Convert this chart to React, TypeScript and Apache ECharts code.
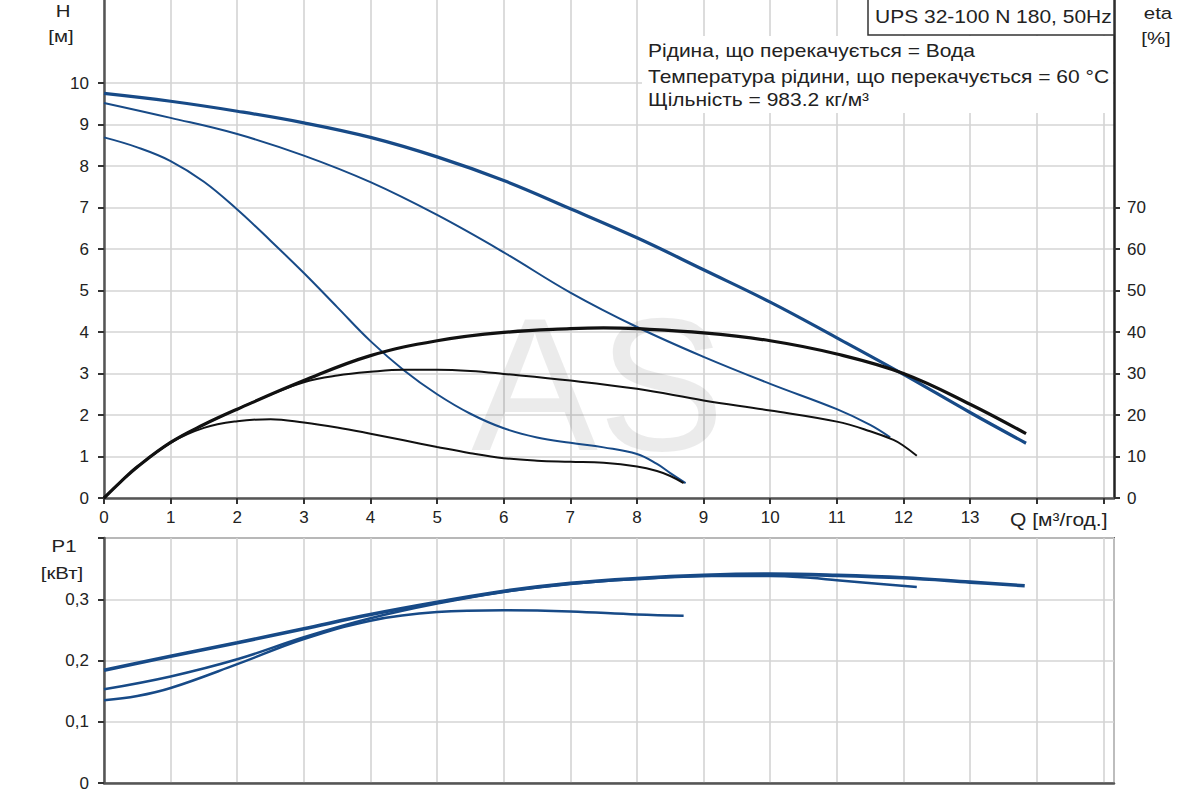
import React, { useEffect, useRef } from "react";
import * as echarts from "echarts";

// ---------- data ----------
// Head curves H [m] vs Q [m³/h]
const qH1 = [0, 1, 2, 3, 4, 5, 6, 7, 8, 9, 10, 11, 12, 13, 13.84];
const valH1 = [9.75, 9.56, 9.32, 9.04, 8.69, 8.22, 7.65, 6.97, 6.27, 5.5, 4.72, 3.86, 2.98, 2.06, 1.32];
const qH2 = [0, 1, 2, 3, 4, 5, 6, 7, 8, 9, 10, 11, 11.5, 11.8];
const valH2 = [9.52, 9.16, 8.77, 8.25, 7.61, 6.82, 5.92, 4.95, 4.12, 3.4, 2.75, 2.14, 1.76, 1.46];
const qH3 = [0, 0.5, 1, 1.5, 2, 2.5, 3, 3.5, 4, 4.5, 5, 5.5, 6, 6.5, 7, 7.5, 8, 8.3, 8.5, 8.73];
const valH3 = [8.69, 8.45, 8.12, 7.62, 6.95, 6.2, 5.42, 4.6, 3.78, 3.08, 2.5, 2.03, 1.68, 1.46, 1.33, 1.22, 1.06, 0.82, 0.6, 0.36];

// Efficiency curves eta [%]
const qE1 = [0, 0.25, 0.5, 1, 1.5, 2, 3, 4, 5, 6, 7, 7.5, 8, 9, 10, 11, 12, 13, 13.84];
const valE1 = [0, 3.9, 7.5, 13.4, 17.7, 21.4, 28.3, 34.3, 37.9, 39.9, 40.8, 41, 40.8, 39.8, 37.9, 34.7, 30, 22.6, 15.5];
const qE2 = [0, 0.25, 0.5, 1, 1.5, 2, 2.5, 3, 3.5, 4, 4.5, 5, 5.5, 6, 7, 8, 9, 10, 11, 11.5, 11.85, 12, 12.2];
const valE2 = [0, 3.9, 7.5, 13.4, 17.7, 21.4, 24.9, 27.9, 29.5, 30.4, 30.9, 30.9, 30.6, 29.9, 28.3, 26.3, 23.5, 21.1, 18.4, 16.1, 14.0, 12.6, 10.2];
const qE3 = [0, 0.25, 0.5, 1, 1.5, 2, 2.5, 3, 3.5, 4, 4.5, 5, 5.5, 6, 6.5, 7, 7.5, 8, 8.3, 8.5, 8.7];
const valE3 = [0, 3.9, 7.5, 13.3, 16.9, 18.5, 19.0, 18.2, 17.0, 15.5, 13.9, 12.3, 10.8, 9.6, 9.0, 8.75, 8.5, 7.6, 6.5, 5.3, 3.6];

// Power curves P1 [kW]
const qP1 = [0, 1, 2, 3, 4, 5, 6, 7, 8, 9, 10, 11, 12, 13, 13.82];
const valP1 = [0.184, 0.207, 0.229, 0.252, 0.275, 0.295, 0.313, 0.326, 0.334, 0.339, 0.341, 0.339, 0.335, 0.328, 0.322];
const qP2 = [0, 1, 2, 3, 4, 5, 6, 7, 8, 9, 10, 10.6, 11, 12.2];
const valP2 = [0.153, 0.174, 0.202, 0.238, 0.269, 0.293, 0.312, 0.325, 0.333, 0.338, 0.338, 0.335, 0.331, 0.32];
const qP3 = [0, 0.5, 1, 2, 3, 4, 5, 6, 7, 8, 8.7];
const valP3 = [0.135, 0.142, 0.155, 0.194, 0.235, 0.265, 0.279, 0.282, 0.28, 0.275, 0.273];

// tick labels
const qLabels = [0, 1, 2, 3, 4, 5, 6, 7, 8, 9, 10, 11, 12, 13];
const hLabels = [0, 1, 2, 3, 4, 5, 6, 7, 8, 9, 10];
const etaLabels = [0, 10, 20, 30, 40, 50, 60, 70];
const pLabels = [0, 0.1, 0.2, 0.3];
const pTicks = [0, 0.1, 0.2, 0.3, 0.4];

const titleText = "UPS 32-100 N 180, 50Hz";
const infoLines = [
  "Рідина, що перекачується = Вода",
  "Температура рідини, що перекачується = 60 °C",
  "Щільність = 983.2 кг/м³",
];

// ---------- styling ----------
const FONT = "'Liberation Sans', Arial, sans-serif";
const BLUE = "#174a87";
const BLACK = "#111111";
const AXIS = "#555555";
const GRID = "#d4d4d4";
const TXT = "#222222";

const pair = (q: number[], v: number[]) => q.map((x, i) => [x, v[i]]);

const lineSeries = (
  name: string,
  data: number[][],
  color: string,
  width: number,
  xAxisIndex: number,
  yAxisIndex: number
) => ({
  name,
  type: "line",
  data,
  xAxisIndex,
  yAxisIndex,
  symbol: "none",
  smooth: 0.4,
  lineStyle: { color, width },
  silent: true,
});

const gtext = (
  text: string,
  x: number,
  y: number,
  align: string,
  fontSize = 17
) => ({
  type: "text",
  x,
  y,
  scaleX: 1.2,
  z: 20,
  style: {
    text,
    fontSize,
    fontFamily: FONT,
    fill: TXT,
    align,
    verticalAlign: "middle",
  },
});

export default function App() {
  const ref = useRef<HTMLDivElement>(null);

  useEffect(() => {
    if (!ref.current) return;
    const chart = echarts.init(ref.current, null, { renderer: "svg" });

    const xAxisCommon = {
      type: "value",
      min: 0,
      max: 15.16,
      interval: 1,
      axisLine: { show: true, onZero: false, lineStyle: { color: AXIS, width: 2.5 } },
      splitLine: { show: true, lineStyle: { color: GRID, width: 1.6 } },
    };

    const option: any = {
      animation: false,
      backgroundColor: "#ffffff",
      grid: [
        { left: 104, right: 86, top: 0, height: 498, containLabel: false },
        {
          left: 104,
          right: 86,
          top: 538,
          height: 245,
          containLabel: false,
          show: true,
          borderColor: "#666666",
          borderWidth: 2,
          backgroundColor: "transparent",
        },
      ],
      xAxis: [
        {
          ...xAxisCommon,
          gridIndex: 0,
          axisTick: {
            show: true,
            length: 6,
            customValues: [...qLabels, 14, 15],
            lineStyle: { color: "#333", width: 2 },
          },
          axisLabel: {
            show: true,
            customValues: qLabels,
            formatter: (v: number) => (v <= 13 ? String(v) : ""),
            fontSize: 17,
            fontFamily: FONT,
            color: TXT,
            margin: 11,
          },
        },
        {
          ...xAxisCommon,
          gridIndex: 1,
          axisTick: { show: false },
          axisLabel: { show: false },
        },
      ],
      yAxis: [
        {
          type: "value",
          gridIndex: 0,
          min: 0,
          max: 12,
          interval: 1,
          axisLine: { show: true, onZero: false, lineStyle: { color: AXIS, width: 2.5 } },
          axisTick: {
            show: true,
            length: 6,
            customValues: hLabels,
            lineStyle: { color: "#333", width: 2 },
          },
          axisLabel: {
            customValues: hLabels,
            formatter: (v: number) => (v <= 10 ? String(v) : ""),
            fontSize: 17,
            fontFamily: FONT,
            color: TXT,
            margin: 15,
          },
          splitLine: { show: true, lineStyle: { color: GRID, width: 1.6 } },
        },
        {
          type: "value",
          gridIndex: 0,
          position: "right",
          min: 0,
          max: 120,
          interval: 10,
          axisLine: { show: true, onZero: false, lineStyle: { color: "#222", width: 2.5 } },
          axisTick: {
            show: true,
            length: 6,
            customValues: etaLabels,
            lineStyle: { color: "#333", width: 2 },
          },
          axisLabel: {
            customValues: etaLabels,
            formatter: (v: number) => (v <= 70 ? String(v) : ""),
            fontSize: 17,
            fontFamily: FONT,
            color: TXT,
            margin: 13,
          },
          splitLine: { show: false },
        },
        {
          type: "value",
          gridIndex: 1,
          min: 0,
          max: 0.4,
          interval: 0.1,
          axisLine: { show: true, onZero: false, lineStyle: { color: AXIS, width: 2.5 } },
          axisTick: {
            show: true,
            length: 6,
            customValues: pTicks,
            lineStyle: { color: "#333", width: 2 },
          },
          axisLabel: {
            customValues: pLabels,
            formatter: (v: number) =>
              v === 0 ? "0" : v > 0.35 ? "" : (Math.round(v * 10) / 10).toFixed(1).replace(".", ","),
            fontSize: 17,
            fontFamily: FONT,
            color: TXT,
            margin: 15,
          },
          splitLine: { show: true, lineStyle: { color: GRID, width: 1.6 } },
        },
      ],
      series: [
        lineSeries("H3", pair(qH3, valH3), BLUE, 2, 0, 0),
        lineSeries("H2", pair(qH2, valH2), BLUE, 2, 0, 0),
        lineSeries("H1", pair(qH1, valH1), BLUE, 3.2, 0, 0),
        lineSeries("eta3", pair(qE3, valE3), BLACK, 2, 0, 1),
        lineSeries("eta2", pair(qE2, valE2), BLACK, 2, 0, 1),
        lineSeries("eta1", pair(qE1, valE1), BLACK, 3.2, 0, 1),
        lineSeries("P1-3", pair(qP3, valP3), BLUE, 2.5, 1, 2),
        lineSeries("P1-2", pair(qP2, valP2), BLUE, 2.5, 1, 2),
        lineSeries("P1-1", pair(qP1, valP1), BLUE, 3.6, 1, 2),
      ],
      graphic: [
        {
          type: "text",
          x: 598,
          y: 384,
          z: 1,
          silent: true,
          style: {
            text: "AS",
            fontSize: 190,
            fontFamily: FONT,
            fill: "rgba(0,0,0,0.08)",
            align: "center",
            verticalAlign: "middle",
          },
        },
        {
          type: "rect",
          z: 15,
          shape: { x: 642, y: 36, width: 471, height: 77 },
          style: { fill: "#ffffff" },
        },
        {
          type: "rect",
          z: 15,
          shape: { x: 868, y: -2, width: 246, height: 37 },
          style: { fill: "#ffffff", stroke: "#333333", lineWidth: 1.5 },
        },
        gtext(titleText, 875, 17, "left", 17.5),
        gtext(infoLines[0], 648, 51, "left", 17.5),
        gtext(infoLines[1], 648, 77, "left", 17.5),
        gtext(infoLines[2], 648, 100, "left", 17.5),
        gtext("H", 63, 11, "center"),
        gtext("[м]", 61, 36, "center"),
        gtext("eta", 1158, 13, "center"),
        gtext("[%]", 1156, 38, "center"),
        gtext("P1", 64, 546, "center"),
        gtext("[кВт]", 62, 573, "center"),
        gtext("Q [м³/год.]", 1010, 520, "left", 17.5),
      ],
    };

    chart.setOption(option);
    return () => chart.dispose();
  }, []);

  return (
    <div
      ref={ref}
      style={{
        position: "fixed",
        left: 0,
        top: 0,
        width: 1200,
        height: 800,
        background: "#ffffff",
      }}
    />
  );
}
